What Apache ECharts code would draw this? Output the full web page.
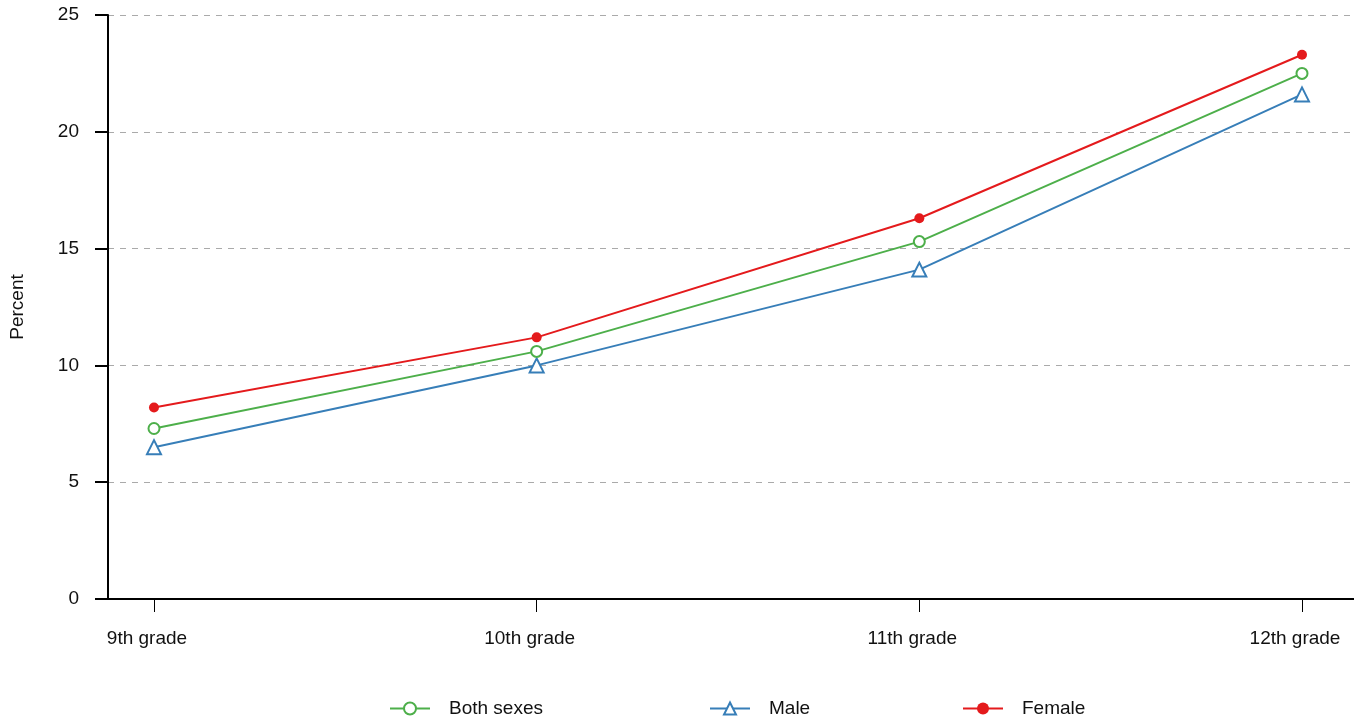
<!DOCTYPE html>
<html>
<head>
<meta charset="utf-8">
<script src="https://cdn.jsdelivr.net/npm/echarts@6/dist/echarts.min.js"></script>
<style>
html,body{margin:0;padding:0;background:#fff;}
#c{width:1354px;height:722px;}
</style>
</head>
<body>
<div id="c"></div>
<script>
var categories = ['9th grade', '10th grade', '11th grade', '12th grade'];
var bothSexes = [7.3, 10.6, 15.3, 22.5];
var male = [6.5, 10.0, 14.1, 21.6];
var female = [8.2, 11.2, 16.3, 23.3];
var yTicks = [0, 5, 10, 15, 20, 25];

function pairs(arr) { return arr.map(function (v, i) { return [i, v]; }); }
var idx = categories.map(function (c, i) { return i; });
var FONT = '"Liberation Sans", Arial, sans-serif';
var TXT = '#111';

var chart = echarts.init(document.getElementById('c'), null, {renderer: 'canvas'});
var legendBase = {
  orient: 'horizontal', top: 694, itemWidth: 40, itemHeight: 15, itemGap: 0,
  textStyle: {fontFamily: FONT, fontSize: 19, color: TXT, padding: [0, 0, 0, 14]}
};
chart.setOption({
  animation: false,
  backgroundColor: '#fff',
  grid: {left: 108, right: 0, top: 15, bottom: 123, containLabel: false},
  legend: [
    Object.assign({}, legendBase, {left: 384, data: ['Both sexes']}),
    Object.assign({}, legendBase, {left: 704, data: ['Male']}),
    Object.assign({}, legendBase, {left: 957, data: ['Female']})
  ],
  xAxis: {
    type: 'value', min: -0.1202, max: 3.1359,
    splitLine: {show: false},
    axisLine: {show: true, onZero: false, lineStyle: {color: '#000', width: 2}},
    axisTick: {show: true, customValues: idx, length: 13, lineStyle: {color: '#000', width: 1}},
    axisLabel: {
      customValues: idx, margin: 30, fontFamily: FONT, fontSize: 19, color: TXT,
      padding: [0, 14, 0, 0],
      formatter: function (v) { return categories[Math.round(v)]; }
    }
  },
  yAxis: {
    type: 'value', min: 0, max: 25, interval: 5,
    name: 'Percent', nameLocation: 'middle', nameGap: 81, nameRotate: 90,
    nameTextStyle: {fontFamily: FONT, fontSize: 19, color: TXT},
    axisLine: {show: true, onZero: false, lineStyle: {color: '#000', width: 2}},
    axisTick: {show: true, length: 13, lineStyle: {color: '#000', width: 2}},
    axisLabel: {margin: 29, fontFamily: FONT, fontSize: 19, color: TXT,
      formatter: function (v) { return yTicks.indexOf(v) >= 0 ? String(v) : ''; }},
    splitLine: {show: true, lineStyle: {color: '#aaa', width: 1, type: [6, 6]}}
  },
  series: [
    {name: 'Both sexes', type: 'line', data: pairs(bothSexes), color: '#4daf4a',
      symbol: 'emptyCircle', symbolSize: 11, lineStyle: {width: 2}, itemStyle: {borderWidth: 2}, z: 3},
    {name: 'Male', type: 'line', data: pairs(male), color: '#377eb8',
      symbol: 'emptyTriangle', symbolSize: 14, lineStyle: {width: 2}, itemStyle: {borderWidth: 2}, z: 2},
    {name: 'Female', type: 'line', data: pairs(female), color: '#e41a1c',
      symbol: 'circle', symbolSize: 10, lineStyle: {width: 2}, z: 4}
  ]
});
</script>
</body>
</html>
